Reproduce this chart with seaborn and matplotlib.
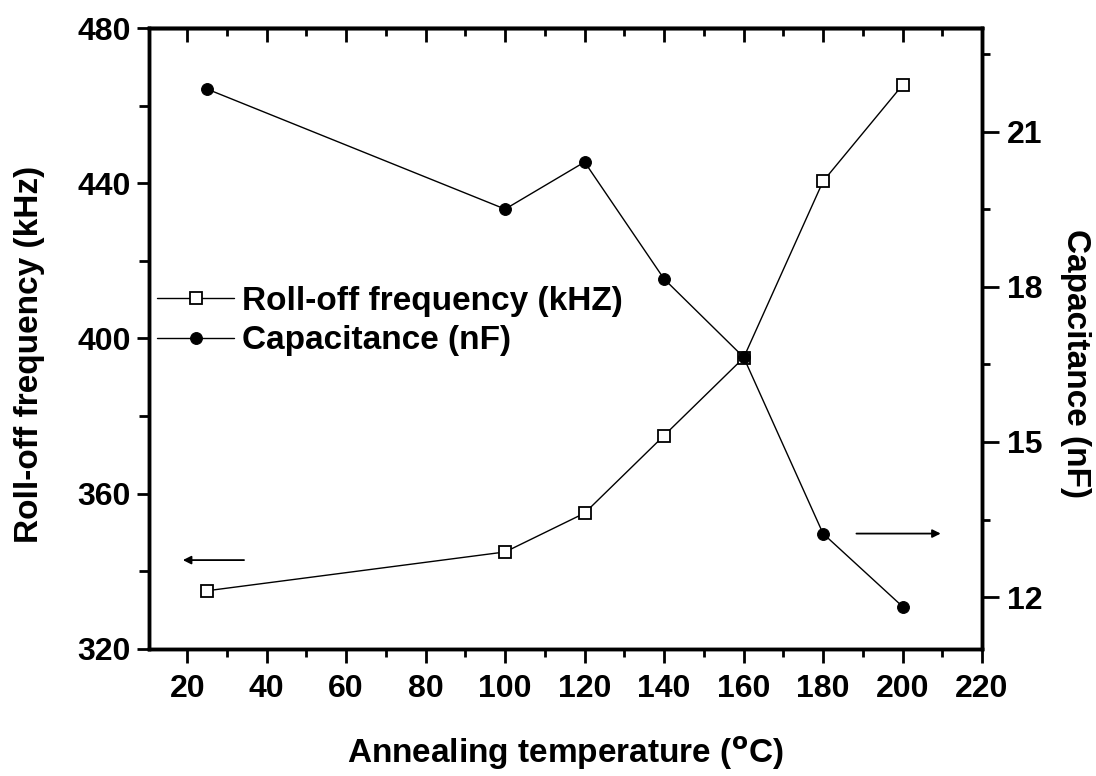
import matplotlib
matplotlib.use("Agg")
import matplotlib.pyplot as plt
import seaborn as sns
import pandas as pd
from matplotlib.ticker import MultipleLocator

temperature = [25, 100, 120, 140, 160, 180, 200]
rolloff_khz = [335, 345, 355, 375, 395, 440.5, 465.3]
capacitance_nf = [21.82, 19.5, 20.41, 18.15, 16.64, 13.23, 11.82]

sns.set_theme(style="ticks")
plt.rcParams['font.family'] = ['Liberation Sans', 'DejaVu Sans']
plt.rcParams['font.weight'] = 'bold'
for k in ['text.color', 'axes.labelcolor', 'xtick.color', 'ytick.color', 'axes.edgecolor']:
    plt.rcParams[k] = 'black'

df = pd.DataFrame({"T": temperature, "F": rolloff_khz, "C": capacitance_nf})

fig = plt.figure(figsize=(10.96, 7.76), dpi=100)
ax = fig.add_axes([0.136, 0.1637, 0.76, 0.8002])
ax2 = ax.twinx()

sns.lineplot(data=df, x="T", y="F", ax=ax, color="black", lw=1.0,
             marker="s", markersize=8, markerfacecolor="white",
             markeredgecolor="black", markeredgewidth=1.3,
             label="Roll-off frequency (kHZ)", legend=False)
sns.lineplot(data=df, x="T", y="C", ax=ax2, color="black", lw=1.0,
             marker="o", markersize=8.5, markerfacecolor="black",
             markeredgecolor="black",
             label="Capacitance (nF)", legend=False)

ax.set_xlim(10.4, 220)
ax.set_ylim(320, 480)
ax2.set_ylim(11, 23)

ax.xaxis.set_minor_locator(MultipleLocator(10))
ax.yaxis.set_minor_locator(MultipleLocator(20))
ax2.yaxis.set_minor_locator(MultipleLocator(1.5))

fs = 23
lfs = 24
xticks = [20, 40, 60, 80, 100, 120, 140, 160, 180, 200, 220]
ax.set_xticks(xticks)
ax.set_yticks([320, 360, 400, 440, 480])
ax2.set_yticks([12, 15, 18, 21])
ax.tick_params(axis='x', which='both', bottom=True, top=False, direction='out',
               labelsize=fs, width=2, pad=8)
ax.tick_params(axis='x', which='major', length=10)
ax.tick_params(axis='x', which='minor', length=6)
ax.tick_params(axis='y', which='both', left=True, direction='out', labelsize=fs, width=2, pad=4)
ax.tick_params(axis='y', which='major', length=9)
ax.tick_params(axis='y', which='minor', length=7)
ax2.tick_params(axis='y', which='both', right=True, direction='out', labelsize=fs, width=2, pad=6)
ax2.tick_params(axis='y', which='major', length=12)
ax2.tick_params(axis='y', which='minor', length=6)

for a in (ax, ax2):
    for lab in a.get_xticklabels() + a.get_yticklabels():
        lab.set_fontweight('bold')
    for s in a.spines.values():
        s.set_linewidth(2.5)
        s.set_color('black')
        s.set_visible(True)

# top ticks inward
secx = ax.secondary_xaxis('top')
secx.set_xticks(xticks)
secx.xaxis.set_minor_locator(MultipleLocator(10))
secx.tick_params(axis='x', which='both', direction='in', width=2, labeltop=False)
secx.tick_params(axis='x', which='major', length=10)
secx.tick_params(axis='x', which='minor', length=6)
secx.spines['top'].set_linewidth(2.5)

ax.set_xlabel("Annealing temperature ($^{\\mathbf{o}}$C)", fontsize=lfs, fontweight='bold', labelpad=22)
ax.set_ylabel("Roll-off frequency (kHz)", fontsize=lfs, fontweight='bold', ha='center', va='center')
ax2.set_ylabel("Capacitance (nF)", fontsize=lfs, fontweight='bold', rotation=270, ha='center', va='center')
ax.yaxis.set_label_coords(-0.143, 0.475)
ax2.yaxis.set_label_coords(1.112, 0.46)

# arrows
ax.annotate("", xy=(18.2, 342.9), xytext=(35.0, 342.9),
            arrowprops=dict(arrowstyle="-|>", color="black", lw=1.3, mutation_scale=12))
ax2.annotate("", xy=(210.3, 13.23), xytext=(187.7, 13.23),
             arrowprops=dict(arrowstyle="-|>", color="black", lw=1.3, mutation_scale=12))

h1, l1 = ax.get_legend_handles_labels()
h2, l2 = ax2.get_legend_handles_labels()
leg = ax2.legend(h1 + h2, l1 + l2, loc='upper left', bbox_to_anchor=(-0.018, 0.622),
                 frameon=False, handlelength=2.3, handletextpad=0.25,
                 labelspacing=0.25, borderaxespad=0.3,
                 prop={'weight': 'bold', 'size': lfs})

fig.savefig("out.png", dpi=100)
